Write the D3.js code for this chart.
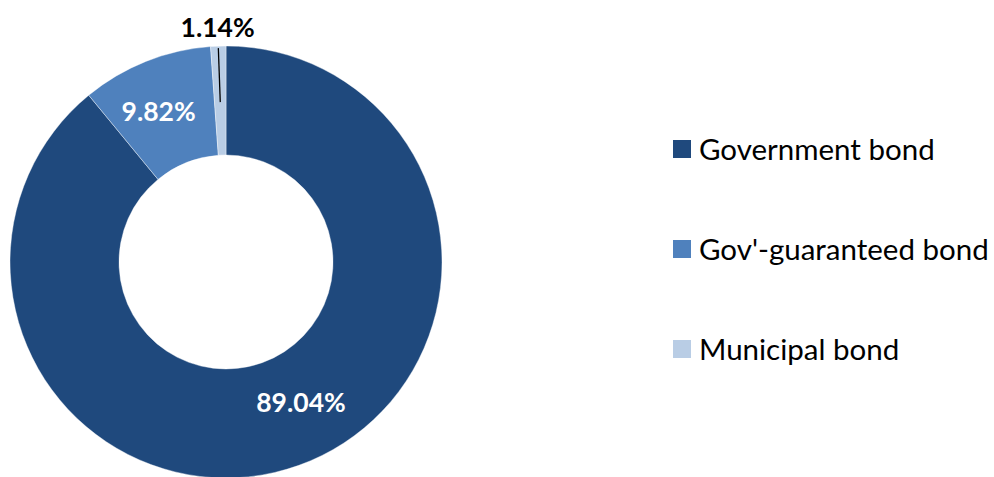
<!DOCTYPE html>
<html><head><meta charset="utf-8">
<script src="https://cdn.jsdelivr.net/npm/d3@7"></script>
<style>html,body{margin:0;padding:0;background:#fff;overflow:hidden}</style>
</head><body>
<svg id="c" width="994" height="477"></svg>
<script>
const categories = ["Government bond", "Gov'-guaranteed bond", "Municipal bond"];
const values = [89.04, 9.82, 1.14];
const labels = ["89.04%", "9.82%", "1.14%"];
const colors = ["#1F497D", "#4F81BD", "#B9CDE5"];

const svg = d3.select("#c");
const cx = 226, cy = 262, R = 216, r = 107;
const font = "Lato, 'Open Sans', sans-serif";

const pie = d3.pie().sort(null).value(d => d)(values);
const arc = d3.arc().innerRadius(r).outerRadius(R);
const g = svg.append("g").attr("transform", `translate(${cx},${cy})`);
g.selectAll("path").data(pie).join("path")
  .attr("d", arc).attr("fill", (d, i) => colors[i])
  .attr("stroke", "#fff").attr("stroke-width", 0.4);

const labelArc = d3.arc().innerRadius(160).outerRadius(160);
const nudge = [[21, -11], [-8, -2], null];
pie.forEach((d, i) => {
  const [x, y] = labelArc.centroid(d);
  if (nudge[i]) {
    g.append("text").attr("x", x + nudge[i][0]).attr("y", y + nudge[i][1])
      .attr("text-anchor", "middle").attr("dominant-baseline", "central")
      .attr("font-family", font).attr("font-weight", "bold").attr("font-size", 26.5)
      .attr("fill", "#fff").text(labels[i]);
  } else {
    const a = (d.startAngle + d.endAngle) / 2;
    const p = (rr) => [Math.sin(a) * rr, -Math.cos(a) * rr];
    const [x2, y2] = p(214);
    g.append("line").attr("x1", x).attr("y1", y).attr("x2", x2).attr("y2", y2)
      .attr("stroke", "#000").attr("stroke-width", 1.3);
    const [x3, y3] = p(235);
    g.append("text").attr("x", x3).attr("y", y3)
      .attr("text-anchor", "middle").attr("dominant-baseline", "central")
      .attr("font-family", font).attr("font-weight", "bold").attr("font-size", 26.5)
      .attr("fill", "#000").text(labels[i]);
  }
});

const leg = svg.append("g").attr("transform", "translate(673,149)");
categories.forEach((c, i) => {
  const row = leg.append("g").attr("transform", `translate(0,${i * 100})`);
  row.append("rect").attr("x", 0).attr("y", -9).attr("width", 18).attr("height", 18).attr("fill", colors[i]);
  row.append("text").attr("x", 26).attr("y", -1).attr("dominant-baseline", "central")
    .attr("font-family", font).attr("font-size", 29.5).attr("fill", "#000").text(c);
});
</script>
</body></html>
